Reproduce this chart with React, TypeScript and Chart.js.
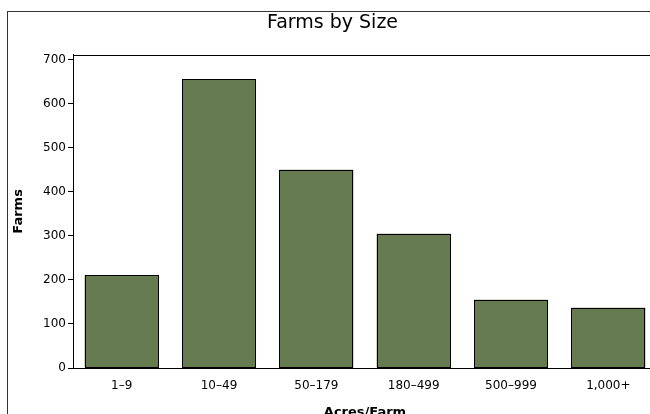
import React, { useEffect, useRef } from "react";
import { Chart, registerables } from "chart.js";

Chart.register(...registerables);

const categories = ["1\u20139", "10\u201349", "50\u2013179", "180\u2013499", "500\u2013999", "1,000+"];
const farms = [210, 655, 450, 305, 155, 137];
const yTickMax = 711;
const chartTitle = "Farms by Size";
const xTitle = "Acres/Farm";
const yTitle = "Farms";

const FONT = "'DejaVu Sans', sans-serif";

const boxPlugin = {
  id: "plotBox",
  afterDatasetsDraw(chart: any) {
    const { ctx } = chart;
    const meta = chart.getDatasetMeta(0);
    ctx.save();
    ctx.strokeStyle = "#000";
    ctx.lineWidth = 1;
    meta.data.forEach((el: any) => {
      const { x, y, base, width } = el.getProps(["x", "y", "base", "width"], true);
      const l = Math.round(x - width / 2) + 0.5;
      const r = Math.round(x + width / 2) - 0.5;
      const t = Math.round(y) + 0.5;
      const b = Math.round(base) - 0.5;
      ctx.strokeRect(l, t, r - l, b - t);
    });
    ctx.restore();
  },
  afterDraw(chart: any) {
    const { ctx, chartArea } = chart;
    ctx.save();
    ctx.strokeStyle = "#000";
    ctx.lineWidth = 1;
    ctx.strokeRect(
      Math.round(chartArea.left) + 0.5,
      Math.round(chartArea.top) + 0.5,
      Math.round(chartArea.right - chartArea.left),
      Math.round(chartArea.bottom - chartArea.top)
    );
    ctx.restore();
  },
};

export default function App() {
  const ref = useRef<HTMLCanvasElement>(null);
  useEffect(() => {
    if (!ref.current) return;
    const chart = new Chart(ref.current, {
      type: "bar",
      data: {
        labels: categories,
        datasets: [
          {
            data: farms,
            backgroundColor: "#667b50",
            borderWidth: 0,
            barPercentage: 0.76,
            categoryPercentage: 1,
          },
        ],
      },
      options: {
        animation: false,
        responsive: false,
        layout: { padding: { right: 11, top: 0, left: 0, bottom: 0 } },
        plugins: {
          legend: { display: false },
          tooltip: { enabled: false },
          title: {
            display: true,
            text: chartTitle,
            color: "#000",
            font: { family: FONT, size: 19, weight: "normal" },
            padding: { top: 0, bottom: 20 },
          },
        },
        scales: {
          x: {
            afterFit(scale: any) {
              scale.height = 74;
            },
            grid: { display: false, drawTicks: false },
            border: { display: true, color: "#000" },
            ticks: { color: "#000", font: { family: FONT, size: 12 }, padding: 11, maxRotation: 0 },
            title: {
              display: true,
              text: xTitle,
              color: "#000",
              font: { family: FONT, size: 13, weight: "bold" },
              padding: { top: 4, bottom: 22 },
            },
          },
          y: {
            min: 0,
            max: yTickMax,
            afterFit(scale: any) {
              scale.width = 65;
            },
            grid: { drawOnChartArea: false, drawTicks: true, tickLength: 5, color: "#000" },
            border: { display: true, color: "#000" },
            ticks: {
              stepSize: 100,
              includeBounds: false,
              color: "#000",
              font: { family: FONT, size: 12 },
              padding: 2,
            },
            title: {
              display: true,
              text: yTitle,
              color: "#000",
              font: { family: FONT, size: 13, weight: "bold" },
              padding: { top: 3, bottom: 0 },
            },
          },
        },
      },
      plugins: [boxPlugin],
    });
    return () => chart.destroy();
  }, []);

  return (
    <div style={{ position: "fixed", left: 0, top: 0, width: 650, height: 414, overflow: "hidden", background: "#fff" }}>
      <div
        style={{
          position: "absolute",
          left: 7,
          top: 11,
          width: 660,
          height: 440,
          border: "1px solid #333",
        }}
      >
        <canvas ref={ref} width={660} height={430} style={{ display: "block", width: 660, height: 430 }} />
      </div>
    </div>
  );
}
